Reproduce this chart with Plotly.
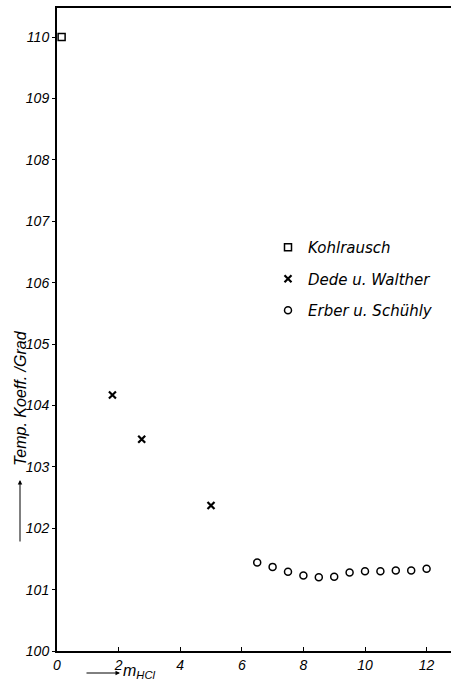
import plotly.graph_objects as go

# Data
kohl_m = [0.15]
kohl_k = [110.0]

dede_m = [1.8, 2.75, 5.0]
dede_k = [104.17, 103.45, 102.37]

erber_m = [6.5, 7.0, 7.5, 8.0, 8.5, 9.0, 9.5, 10.0, 10.5, 11.0, 11.5, 12.0]
erber_k = [101.44, 101.37, 101.29, 101.23, 101.20, 101.21, 101.28, 101.30, 101.30, 101.31, 101.31, 101.34]

x_ticks = [0, 2, 4, 6, 8, 10, 12]
y_ticks = [100, 101, 102, 103, 104, 105, 106, 107, 108, 109, 110]
y_ticktext = [str(v) for v in y_ticks]

FONT = "Liberation Sans, DejaVu Sans"
LFONT = "DejaVu Sans"

fig = go.Figure()
fig.add_trace(go.Scatter(
    x=kohl_m, y=kohl_k, mode="markers", name="Kohlrausch", legendgroup="a",
    marker=dict(symbol="square-open", size=7, color="black", line=dict(width=1.5, color="black")),
    cliponaxis=False))
fig.add_trace(go.Scatter(
    x=dede_m, y=dede_k, mode="markers", name="Dede u. Walther", legendgroup="b",
    marker=dict(symbol="x-thin-open", size=7, color="black", line=dict(width=2.2, color="black")),
    cliponaxis=False))
fig.add_trace(go.Scatter(
    x=erber_m, y=erber_k, mode="markers", name="Erber u. Schühly", legendgroup="c",
    marker=dict(symbol="circle-open", size=7, color="black", line=dict(width=1.5, color="black")),
    cliponaxis=False))

W, H = 451, 680
L, R, T, B = 57, 0, 8, 29
pw, ph = W - L - R, H - T - B

def px_x(p):
    return (p - L) / pw

def px_y(p):
    return (H - B - p) / ph

fig.update_layout(
    width=W, height=H,
    margin=dict(l=L, r=R, t=T, b=B),
    paper_bgcolor="white", plot_bgcolor="white",
    font=dict(family=FONT, size=13, color="black", style="italic"),
    showlegend=True,
    legend=dict(x=px_x(268), y=px_y(231), xanchor="left", yanchor="top",
                traceorder="grouped", tracegroupgap=9, bgcolor="rgba(0,0,0,0)",
                itemwidth=30,
                font=dict(family=LFONT, size=15, style="italic", color="black")),
    xaxis=dict(range=[0, pw / 30.8], tickvals=x_ticks, ticktext=[str(v) for v in x_ticks],
               ticks="inside", ticklen=4, tickcolor="black", showline=True, linecolor="black",
               linewidth=1.5, mirror=True, showgrid=False, zeroline=False,
               tickfont=dict(family=FONT, size=14, style="italic")),
    yaxis=dict(range=[100, 100 + ph / 61.4], tickvals=y_ticks, ticktext=y_ticktext,
               ticks="outside", ticklen=3, tickcolor="black", showline=True, linecolor="black",
               linewidth=2, mirror=False, showgrid=False, zeroline=False,
               tickfont=dict(family=FONT, size=14, style="italic")),
)

# y-axis title with upward arrow
fig.add_annotation(xref="paper", yref="paper", x=px_x(21), y=px_y(398),
                   xanchor="center", yanchor="middle",
                   text="Temp. Koeff. /Grad", textangle=-90, showarrow=False,
                   font=dict(family=FONT, size=16, style="italic"))
fig.add_annotation(xref="paper", yref="paper", x=px_x(20), y=px_y(480),
                   text="", showarrow=True, ax=0, ay=63, arrowhead=2, arrowsize=0.9,
                   arrowwidth=1, arrowcolor="black")

# x-axis label with arrow
fig.add_annotation(xref="paper", yref="paper", x=px_x(120), y=px_y(673),
                   text="", showarrow=True, ax=-35, ay=0, arrowhead=2, arrowsize=0.9,
                   arrowwidth=1, arrowcolor="black")
fig.add_annotation(xref="paper", yref="paper", x=px_x(121), y=px_y(671),
                   xanchor="left", yanchor="middle", text="m<sub>HCl</sub>", showarrow=False,
                   font=dict(family=FONT, size=16, style="italic"))

fig.write_html("out.html",
               config={"displayModeBar": False},
               post_script="document.body.style.margin='0px';document.body.style.overflow='hidden';")
